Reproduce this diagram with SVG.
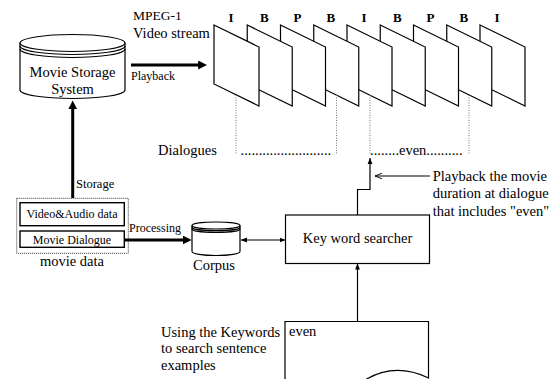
<svg xmlns="http://www.w3.org/2000/svg" width="552" height="379" viewBox="0 0 552 379">
<defs>
<style>
text{font-family:"Liberation Serif","Times New Roman",serif;fill:#000}
.t{font-size:14.5px}
.s{font-size:12px}
.b{font-size:13px;font-weight:bold;text-anchor:middle}
.m{text-anchor:middle}
.ln{fill:#fff;stroke:#000;stroke-width:1.2}
.fr{fill:#fff;stroke:#000;stroke-width:1.2;stroke-linejoin:miter}
.dot{stroke:#777;stroke-width:1;stroke-dasharray:1,1.5;fill:none}
.thick{stroke:#000;stroke-width:3;fill:none}
.thin{stroke:#000;stroke-width:1.2;fill:none}
</style>
<marker id="ah" viewBox="0 0 10 10" refX="1" refY="5" markerWidth="9" markerHeight="9" markerUnits="userSpaceOnUse" orient="auto">
<path d="M0,0 L10,5 L0,10 z" fill="#000"/>
</marker>
<marker id="ahs" viewBox="0 0 10 10" refX="10" refY="5" markerWidth="6" markerHeight="6" markerUnits="userSpaceOnUse" orient="auto-start-reverse">
<path d="M0,1 L10,5 L0,9 z" fill="#000"/>
</marker>
<marker id="aho" viewBox="0 0 10 10" refX="10" refY="5" markerWidth="7" markerHeight="7" markerUnits="userSpaceOnUse" orient="auto">
<path d="M0,1 L10,5 L0,9" fill="none" stroke="#000" stroke-width="1.3"/>
</marker>
</defs>
<rect width="552" height="379" fill="#fff"/>

<g id="movie-storage">
<path class="ln" d="M20,43 V90 A52.5,8.5 0 0 0 125,90 V43"/>
<ellipse class="ln" cx="72.5" cy="43" rx="52.5" ry="8.5"/>
<path class="thin" d="M20,46 A52.5,8.5 0 0 0 125,46 M20,49 A52.5,8.5 0 0 0 125,49"/>
<text class="t m" x="72.5" y="76.5">Movie Storage</text>
<text class="t m" x="72.5" y="94">System</text>
</g>

<g id="video-stream-label">
<text x="133" y="19.5" style="font-size:13.5px">MPEG-1</text>
<text class="t" x="133" y="37.5">Video stream</text>
</g>

<g id="frames">
<polygon class="fr" points="480,25 525,47 525,106 480,84"/>
<polygon class="fr" points="446.75,25 491.75,47 491.75,106 446.75,84"/>
<polygon class="fr" points="413.5,25 458.5,47 458.5,106 413.5,84"/>
<polygon class="fr" points="380.25,25 425.25,47 425.25,106 380.25,84"/>
<polygon class="fr" points="347,25 392,47 392,106 347,84"/>
<polygon class="fr" points="313.75,25 358.75,47 358.75,106 313.75,84"/>
<polygon class="fr" points="280.5,25 325.5,47 325.5,106 280.5,84"/>
<polygon class="fr" points="247.25,25 292.25,47 292.25,106 247.25,84"/>
<polygon class="fr" points="214,25 259,47 259,106 214,84"/>
<text class="b" x="231" y="21.5">I</text>
<text class="b" x="264.25" y="21.5">B</text>
<text class="b" x="297.5" y="21.5">P</text>
<text class="b" x="330.75" y="21.5">B</text>
<text class="b" x="364" y="21.5">I</text>
<text class="b" x="397.25" y="21.5">B</text>
<text class="b" x="430.5" y="21.5">P</text>
<text class="b" x="463.75" y="21.5">B</text>
<text class="b" x="497" y="21.5">I</text>
</g>

<g id="dialogues">
<path class="dot" d="M236,95 V155 M336.5,95 V155 M370,95 V155 M469,95 V155"/>
<text class="t" x="158" y="155">Dialogues</text>
<text class="t" x="240.5" y="155">.........................</text>
<text class="t" x="370" y="155">........even..........</text>
</g>

<g id="movie-data">
<rect x="16.7" y="198.3" width="111.6" height="55" fill="none" stroke="#333" stroke-width="1" stroke-dasharray="1,1"/>
<rect x="20" y="202.7" width="104.3" height="23" fill="#fff" stroke="#000" stroke-width="1.4"/>
<text class="s m" x="72" y="218">Video&amp;Audio data</text>
<rect x="20" y="231" width="104.3" height="16.3" fill="#fff" stroke="#000" stroke-width="1.4"/>
<text class="s m" x="72" y="243.5">Movie Dialogue</text>
<text class="t m" x="72" y="265.5">movie data</text>
</g>

<g id="corpus">
<path class="ln" d="M192,225.5 V251.5 A24,4 0 0 0 240,251.5 V225.5"/>
<ellipse class="ln" cx="216" cy="225.5" rx="24" ry="3.5"/>
<path class="thin" d="M192,227.2 A24,3.5 0 0 0 240,227.2 M192,228.9 A24,3.5 0 0 0 240,228.9" stroke-width="1"/>
<text class="t m" x="214" y="270">Corpus</text>
</g>

<g id="keyword-searcher">
<rect class="ln" x="285.5" y="215" width="144" height="48.5"/>
<text class="t m" x="357.5" y="243">Key word searcher</text>
</g>

<g id="keyword-document">
<path class="ln" d="M285,380 V321.5 H428.5 V378 Q395,362 365,380"/>
<text class="t" x="289" y="336">even</text>
<text class="t" x="161" y="336.5">Using the Keywords</text>
<text class="t" x="161" y="353.2">to search sentence</text>
<text class="t" x="161" y="370">examples</text>
</g>

<g id="playback-note">
<text class="t" x="432.7" y="180.7">Playback the movie</text>
<text class="t" x="432.7" y="198.2">duration at dialogue</text>
<text class="t" x="432.7" y="215.7">that includes "even"</text>
</g>

<g id="connectors">
<line class="thick" x1="131" y1="65" x2="199" y2="65" marker-end="url(#ah)"/>
<text class="s" x="131" y="79.5">Playback</text>
<line class="thick" x1="72.7" y1="198" x2="72.7" y2="108.5" marker-end="url(#ah)"/>
<text x="76" y="188" style="font-size:12.5px">Storage</text>
<line class="thick" x1="124.3" y1="240" x2="183.5" y2="240" marker-end="url(#ah)"/>
<text class="s" x="129" y="232">Processing</text>
<line class="thin" x1="241" y1="240" x2="285.5" y2="240" marker-start="url(#ahs)" marker-end="url(#ahs)"/>
<line class="thin" x1="357.5" y1="321.5" x2="357.5" y2="263.5" marker-end="url(#ahs)"/>
<polyline class="thin" points="357.5,215 357.5,189.5 370,189.5 370,158" marker-end="url(#ahs)"/>
<line class="thin" x1="430" y1="176" x2="375" y2="176" marker-end="url(#aho)"/>
</g>
</svg>
